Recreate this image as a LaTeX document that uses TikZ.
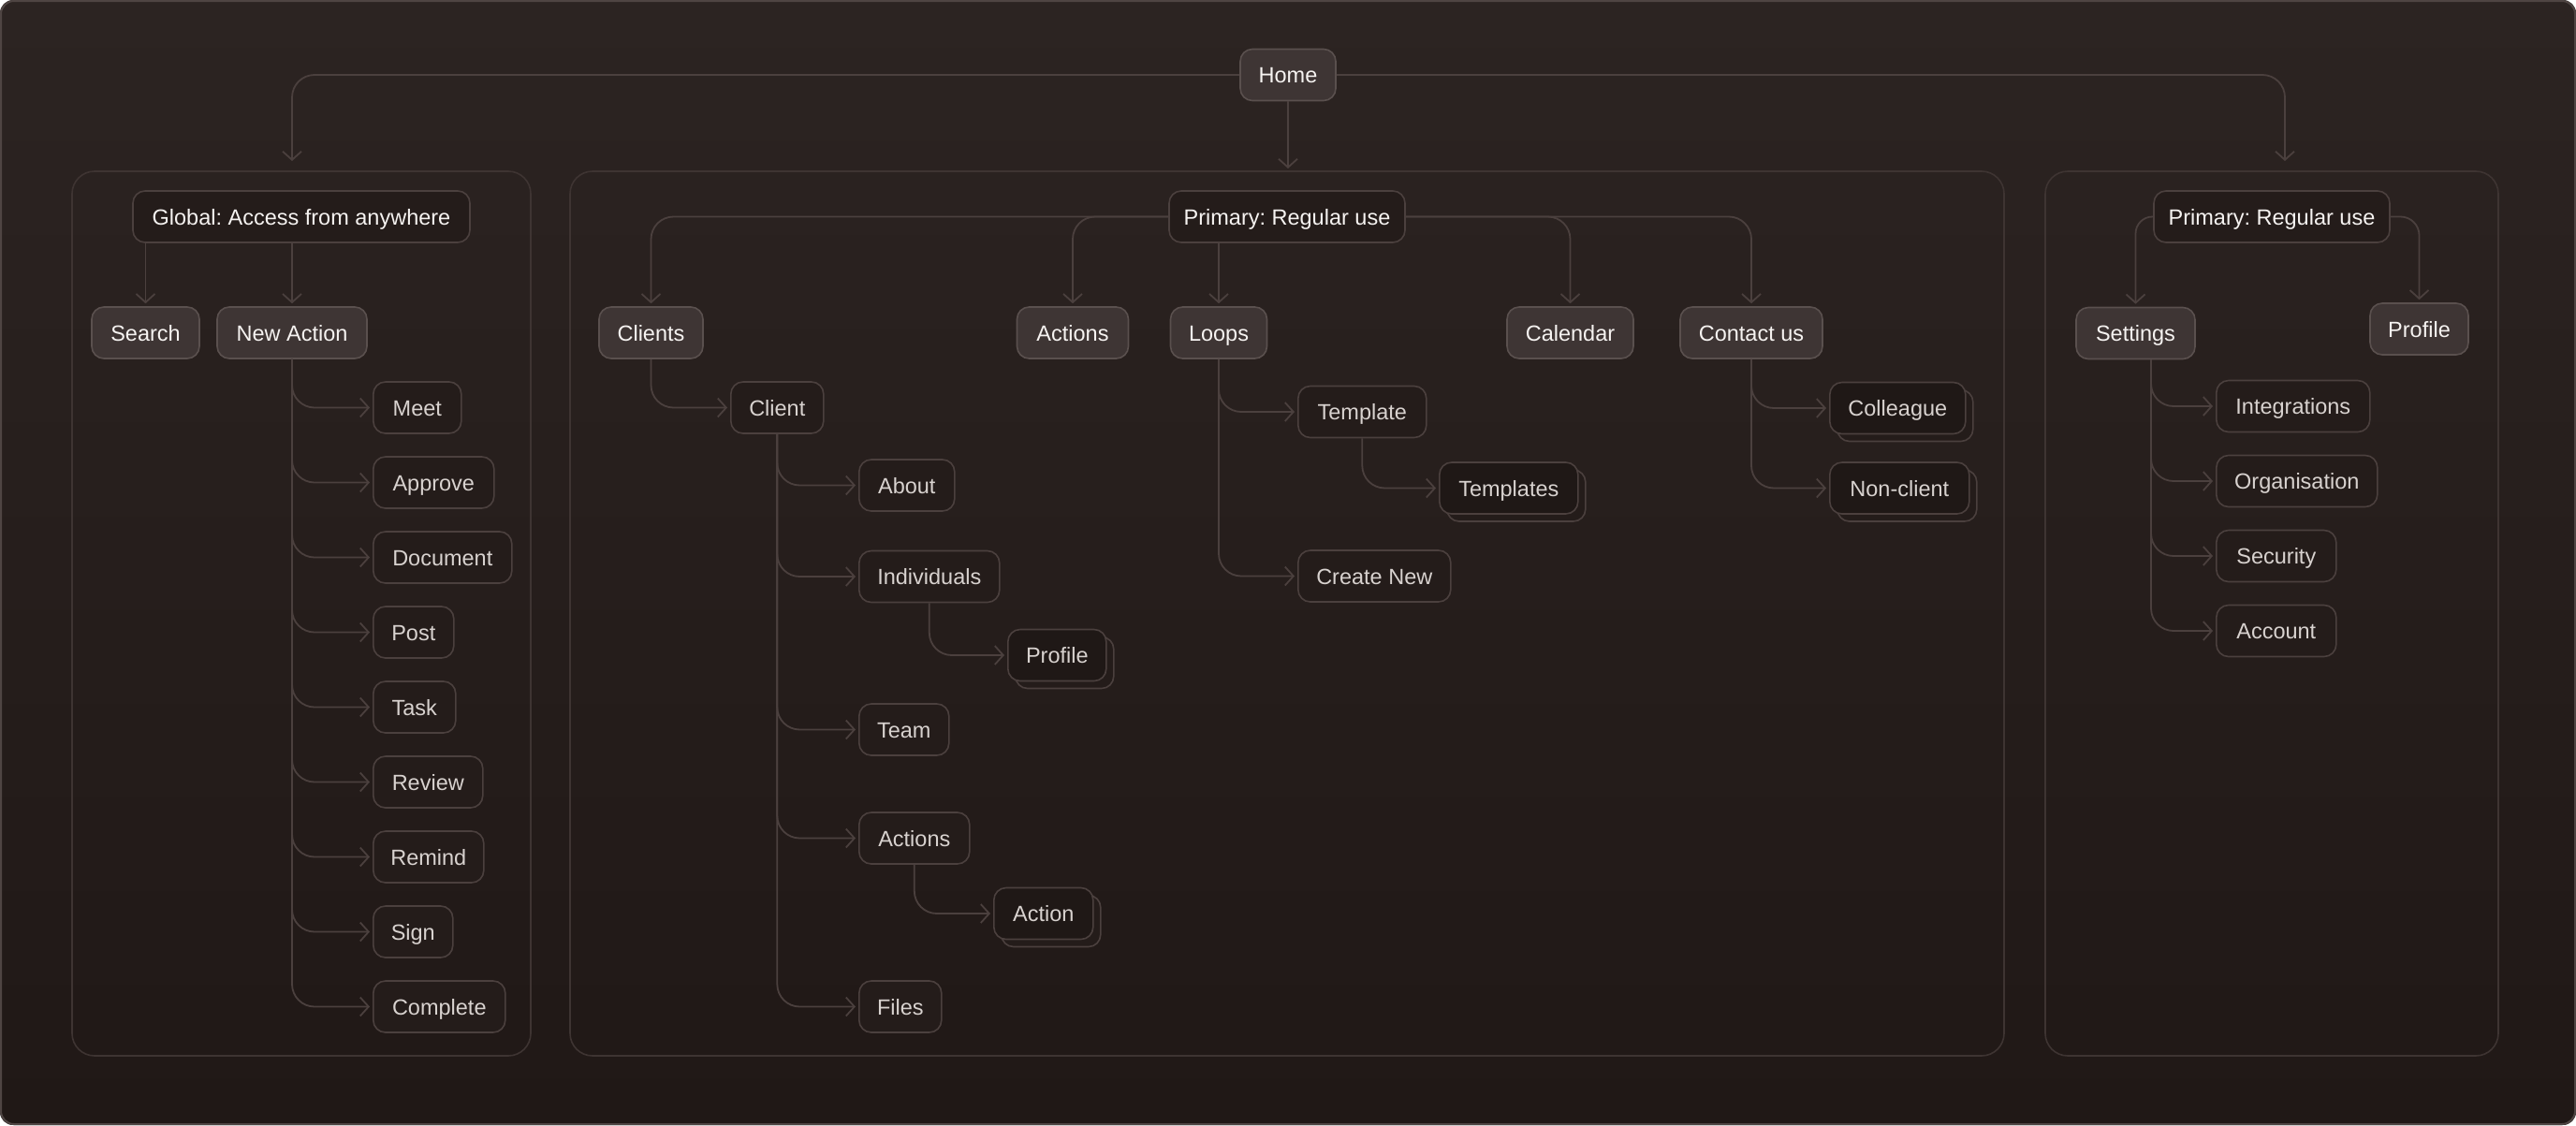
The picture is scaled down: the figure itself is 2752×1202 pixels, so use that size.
\documentclass[tikz,border=0pt]{standalone}
\usepackage{fontspec}
\setmainfont{Liberation Sans}
\frenchspacing
\usetikzlibrary{arrows.meta,shadows}
\definecolor{bgtop}{HTML}{2C2422}
\definecolor{bgbot}{HTML}{201816}
\definecolor{bgmid}{HTML}{241C1A}
\definecolor{framec}{HTML}{4F4543}
\definecolor{panelc}{HTML}{3E3432}
\definecolor{linec}{HTML}{4B403E}
\definecolor{nfill}{HTML}{3E3534}
\definecolor{nborder}{HTML}{5A504E}
\definecolor{oborder}{HTML}{4B403E}
\definecolor{stackfill}{HTML}{1F1816}
\definecolor{tbright}{HTML}{F6F3F1}
\definecolor{tchild}{HTML}{D8D2CF}
\begin{document}
\begin{tikzpicture}[x=1pt,y=-1pt,
  base/.style={rounded corners=13pt, minimum height=55pt, inner xsep=2pt, inner ysep=0pt,
    text height=23pt, text depth=6pt, line width=1.6pt, font=\fontsize{23.5}{28}\selectfont\frenchspacing},
  filled/.style={base, fill=nfill, draw=nborder, text=tbright},
  outl/.style={base, fill=bgmid, draw=oborder, text=tbright},
  child/.style={base, fill=bgmid, draw=oborder, text=tchild, anchor=west},
  stack/.style={child, fill=stackfill,
    copy shadow={shadow xshift=8pt, shadow yshift=-8pt, fill=bgmid, draw=oborder, line width=1.6pt}},
  panel/.style={draw=panelc, line width=1.6pt, rounded corners=24pt},
  conn/.style={draw=linec, line width=1.8pt, rounded corners=24pt,
    -{Straight Barb[length=9pt,width=20pt]}, shorten >=3pt},
]
\useasboundingbox (0,0) rectangle (2752,1202);
\shade[top color=bgtop, bottom color=bgbot, rounded corners=14pt] (0,0) rectangle (2752,1202);
\draw[framec, line width=2pt, rounded corners=14pt] (1,1) rectangle (2751,1201);

% panels
\draw[panel] (77,183) rectangle (567,1128);
\draw[panel] (609,183) rectangle (2141,1128);
\draw[panel] (2185,183) rectangle (2669,1128);

% top
\node[filled, minimum width=102pt] (home) at (1376,80) {Home};
\coordinate (ltop) at (312,172);
\coordinate (mtop) at (1376,180);
\coordinate (rtop) at (2441,172);
\draw[conn, shorten >=0pt] (home.west) -| (ltop);
\draw[conn, shorten >=0pt] (home.east) -| (rtop);
\draw[conn, shorten >=0pt] (home.south) -- (mtop);

% left panel
\node[outl, minimum width=360pt] (global) at (322,231.5) {Global: Access from anywhere};
\node[filled, minimum width=115pt] (search) at (155.5,355.5) {Search};
\node[filled, minimum width=160pt] (newact) at (312,355.5) {New Action};
\draw[conn] (search.north |- global.south) -- (search.north);
\draw[conn] (newact.north |- global.south) -- (newact.north);

\node[child, minimum width=94pt]  (meet)     at (398,435.5) {Meet};
\node[child, minimum width=129pt] (approve)  at (398,515.5) {Approve};
\node[child, minimum width=148pt] (document) at (398,595.5) {Document};
\node[child, minimum width=86pt]  (post)     at (398,675.5) {Post};
\node[child, minimum width=88pt]  (task)     at (398,755.5) {Task};
\node[child, minimum width=117pt] (review)   at (398,835.5) {Review};
\node[child, minimum width=118pt] (remind)   at (398,915.5) {Remind};
\node[child, minimum width=85pt]  (sign)     at (398,995.5) {Sign};
\node[child, minimum width=141pt] (complete) at (398,1075.5) {Complete};
\foreach \t in {meet,approve,document,post,task,review,remind,sign,complete}
  \draw[conn] (newact.south) |- (\t.west);

% middle panel
\node[outl, minimum width=252pt] (primary) at (1375,231.5) {Primary: Regular use};
\node[filled, minimum width=111pt] (clients) at (695.5,355.5) {Clients};
\node[filled, minimum width=119pt] (actions) at (1146,355.5) {Actions};
\node[filled, minimum width=103pt] (loops) at (1302,355.5) {Loops};
\node[filled, minimum width=135pt] (calendar) at (1677.5,355.5) {Calendar};
\node[filled, minimum width=152pt] (contact) at (1871,355.5) {Contact us};
\draw[conn] (primary.west) -| (clients.north);
\draw[conn] (primary.west) -| (actions.north);
\draw[conn] (loops.north |- primary.south) -- (loops.north);
\draw[conn] (primary.east) -| (calendar.north);
\draw[conn] (primary.east) -| (contact.north);

\node[child, minimum width=99pt] (client) at (780,435.5) {Client};
\draw[conn] (clients.south) |- (client.west);
\node[child, minimum width=102pt] (about) at (917,518.5) {About};
\node[child, minimum width=150pt] (indiv) at (917,616) {Individuals};
\node[stack, minimum width=105pt] (profile) at (1076,700) {Profile};
\node[child, minimum width=96pt] (team) at (917,779.5) {Team};
\node[child, minimum width=118pt] (actions2) at (917,895.5) {Actions};
\node[stack, minimum width=106pt] (action) at (1061,976) {Action};
\node[child, minimum width=88pt] (files) at (917,1075.5) {Files};
\foreach \t in {about,indiv,team,actions2,files}
  \draw[conn] (client.south) |- (\t.west);
\draw[conn] (indiv.south) |- (profile.west);
\draw[conn] (actions2.south) |- (action.west);

\node[child, minimum width=137pt] (template) at (1386,440) {Template};
\node[stack, minimum width=148pt] (templates) at (1537,521.5) {Templates};
\node[child, minimum width=163pt] (createnew) at (1386,615.5) {Create New};
\draw[conn] (loops.south) |- (template.west);
\draw[conn] (loops.south) |- (createnew.west);
\draw[conn] (template.south) |- (templates.west);

\node[stack, minimum width=145pt] (colleague) at (1954,436) {Colleague};
\node[stack, minimum width=149pt] (nonclient) at (1954,521.5) {Non-client};
\draw[conn] (contact.south) |- (colleague.west);
\draw[conn] (contact.south) |- (nonclient.west);

% right panel
\node[outl, minimum width=252pt] (primary2) at (2427,231.5) {Primary: Regular use};
\node[filled, minimum width=127pt] (settings) at (2281.5,356) {Settings};
\node[filled, minimum width=105pt] (profile2) at (2584.5,351.5) {Profile};
\draw[conn, rounded corners=18pt] (primary2.west) -| (settings.north);
\draw[conn, rounded corners=20pt] (primary2.east) -| (profile2.north);

\node[child, minimum width=164pt] (integr) at (2367,434) {Integrations};
\node[child, minimum width=172pt] (organ) at (2367,514) {Organisation};
\node[child, minimum width=128pt] (security) at (2367,594) {Security};
\node[child, minimum width=128pt] (account) at (2367,674) {Account};
\foreach \t in {integr,organ,security,account}
  \draw[conn] ([xshift=16.5pt]settings.south) |- (\t.west);
\end{tikzpicture}
\end{document}
